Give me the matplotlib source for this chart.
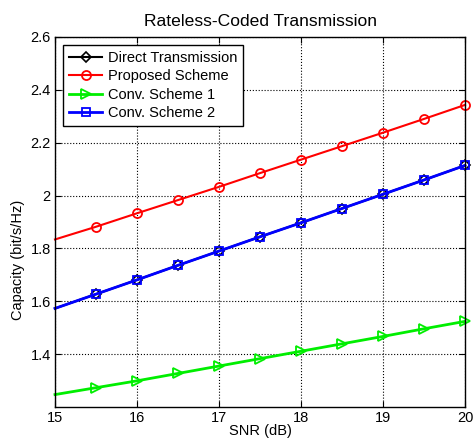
import numpy as np
import matplotlib
matplotlib.use("Agg")
import matplotlib.pyplot as plt

plt.rcParams['font.family'] = ['Liberation Sans', 'DejaVu Sans']
plt.rcParams['font.size'] = 10.5

# SNR values (dB)
snr = [15, 15.5, 16, 16.5, 17, 17.5, 18, 18.5, 19, 19.5, 20]

# capacity (bit/s/Hz)
direct = [1.573, 1.627, 1.681, 1.736, 1.790, 1.844, 1.897, 1.951, 2.005, 2.059, 2.114]
proposed = [1.834, 1.882, 1.933, 1.983, 2.033, 2.085, 2.136, 2.187, 2.238, 2.290, 2.343]
conv1 = [1.247, 1.273, 1.299, 1.327, 1.355, 1.383, 1.411, 1.439, 1.467, 1.496, 1.524]
conv2 = [1.573, 1.627, 1.681, 1.736, 1.790, 1.844, 1.897, 1.951, 2.005, 2.059, 2.114]

fig = plt.figure(figsize=(4.74, 4.41), dpi=100)
ax = fig.add_axes([55/474, 1-407/441, 410/474, 370/441])

me = slice(1, None)
ax.plot(snr, direct, color='black', marker='D', ms=5, mfc='none', mew=1.2,
        lw=1.5, markevery=me, clip_on=False, label='Direct Transmission')
ax.plot(snr, proposed, color='red', marker='o', ms=6.5, mfc='none', mew=1.3,
        lw=1.5, markevery=me, clip_on=False, label='Proposed Scheme')
ax.plot(snr, conv1, color='#00ee00', marker='>', ms=7, mfc='none', mew=1.3,
        lw=2, markevery=me, clip_on=False, label='Conv. Scheme 1')
ax.plot(snr, conv2, color='blue', marker='s', ms=6, mfc='none', mew=1.3,
        lw=2, markevery=me, clip_on=False, label='Conv. Scheme 2')

ax.set_xlim(15, 20)
ax.set_ylim(1.2, 2.6)
ax.set_xticks([15, 16, 17, 18, 19, 20])
ax.set_yticks([1.4, 1.6, 1.8, 2.0, 2.2, 2.4, 2.6])
ax.set_yticklabels(['1.4', '1.6', '1.8', '2', '2.2', '2.4', '2.6'])
ax.tick_params(direction='in', top=True, right=True, length=4, width=0.8)
ax.tick_params(axis='x', pad=3)
ax.tick_params(axis='y', pad=3)
ax.grid(True, color='black', linestyle=':', linewidth=0.8)
for s in ax.spines.values():
    s.set_linewidth(1)

ax.set_title('Rateless-Coded Transmission', pad=8)
ax.set_xlabel('SNR (dB)', labelpad=-1)
ax.set_ylabel('Capacity (bit/s/Hz)', va='center')
ax.yaxis.set_label_coords(-0.09, 0.397)

leg = ax.legend(loc='upper left', fancybox=False, framealpha=1, edgecolor='black',
                handlelength=2.3, handletextpad=0.4, labelspacing=0.3,
                borderpad=0.4, borderaxespad=0.55)
leg.get_frame().set_linewidth(1)

fig.savefig('out.png', dpi=100)
